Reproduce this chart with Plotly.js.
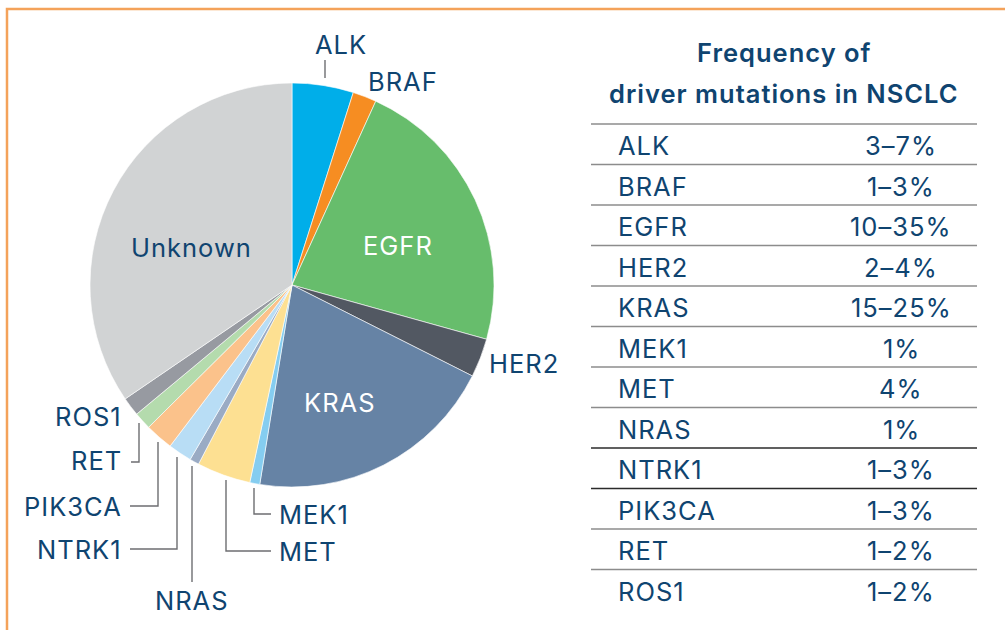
<!DOCTYPE html>
<html>
<head>
<meta charset="utf-8">
<script src="https://cdn.plot.ly/plotly-3.0.1.min.js"></script>
<style>
html,body{margin:0;padding:0;background:#fff;}
#chart{width:1005px;height:630px;}
.annotation-text{letter-spacing:1px;}
</style>
</head>
<body>
<div id="chart"></div>
<script>
// ---- data ----
const sliceLabels = ["ALK","BRAF","EGFR","HER2","KRAS","MEK1","MET","NRAS","NTRK1","PIK3CA","RET","ROS1","Unknown"];
const sliceValues = [4.9, 1.9, 22.5, 3.1, 20.1, 0.8, 4.3, 0.75, 1.9, 2.25, 1.4, 1.5, 34.5];
const sliceColors = ["#00aee9","#f68d22","#67bd6c","#525862","#6683a5","#85cdf0","#fde092","#9aabc4","#b8ddf5","#fbc28b","#b4dbad","#979aa1","#d1d3d4"];
const tableTitle = ["Frequency of", "driver mutations in NSCLC"];
const tableGenes = ["ALK","BRAF","EGFR","HER2","KRAS","MEK1","MET","NRAS","NTRK1","PIK3CA","RET","ROS1"];
const tableFreq = ["3–7%","1–3%","10–35%","2–4%","15–25%","1%","4%","1%","1–3%","1–3%","1–2%","1–2%"];

// ---- layout helpers (pixel -> paper) ----
const W = 1005, H = 630;
const px = x => x / W;
const py = y => 1 - y / H;
const navy = "#0f4470";
const FONT = "Inter, 'Open Sans', sans-serif";
const FS = 25.5;

const cx = 292, cy = 285, R = 202;

const annotations = [];
const shapes = [];

function label(text, x, y, anchor, color) {
  annotations.push({text: text, x: px(x), y: py(y), xref: "paper", yref: "paper",
    xanchor: anchor, yanchor: "middle", showarrow: false,
    font: {family: FONT, size: FS, color: color || navy}});
}
function leader(points) {
  let d = "";
  points.forEach((p, i) => { d += (i ? " L " : "M ") + px(p[0]) + "," + py(p[1]); });
  shapes.push({type: "path", xref: "paper", yref: "paper", path: d,
    line: {color: "#6d6e71", width: 1.4}});
}

// pie labels
const labelPos = {
  "ALK":     {x: 341, y: 45,  a: "center"},
  "BRAF":    {x: 366, y: 82,  a: "left"},
  "EGFR":    {x: 398, y: 246, a: "center", c: "#ffffff"},
  "HER2":    {x: 487, y: 364, a: "left"},
  "KRAS":    {x: 340, y: 403, a: "center", c: "#ffffff"},
  "MEK1":    {x: 277, y: 514, a: "left"},
  "MET":     {x: 277, y: 551, a: "left"},
  "NRAS":    {x: 192, y: 600, a: "center"},
  "NTRK1":   {x: 124, y: 549, a: "right"},
  "PIK3CA":  {x: 124, y: 506, a: "right"},
  "RET":     {x: 124, y: 461, a: "right"},
  "ROS1":    {x: 124, y: 416, a: "right"},
  "Unknown": {x: 191, y: 248, a: "center"}
};
sliceLabels.forEach(l => { const p = labelPos[l]; label(l, p.x, p.y, p.a, p.c); });

leader([[325, 60], [325, 78]]);                  // ALK
leader([[139, 423], [139, 462], [131, 462]]);    // RET
leader([[158, 442], [158, 506], [130, 506]]);    // PIK3CA
leader([[177, 457], [177, 549], [130, 549]]);    // NTRK1
leader([[192, 466], [192, 582]]);                // NRAS
leader([[226, 480], [226, 551], [271, 551]]);    // MET
leader([[254, 488], [254, 514], [271, 514]]);    // MEK1

// table title
annotations.push({text: tableTitle[0], x: px(784), y: py(52.5), xref: "paper", yref: "paper",
  xanchor: "center", yanchor: "middle", showarrow: false,
  font: {family: FONT, size: 25.5, color: navy, weight: 600}});
annotations.push({text: tableTitle[1], x: px(784), y: py(93.5), xref: "paper", yref: "paper",
  xanchor: "center", yanchor: "middle", showarrow: false,
  font: {family: FONT, size: 25.5, color: navy, weight: 600}});

// table rows
const rowTop = 124, rowH = 40.5;
tableGenes.forEach((g, i) => {
  const yc = rowTop + rowH * (i + 0.5) + 1.5;
  label(g, 616, yc, "left");
  label(tableFreq[i], 901, yc, "center");
  const yl = rowTop + rowH * i;
  shapes.push({type: "line", xref: "paper", yref: "paper",
    x0: px(591), x1: px(977), y0: py(yl), y1: py(yl),
    line: {color: (i === 8 || i === 9) ? "#2b2b2b" : "#8c8c8c", width: 1.5}});
});

// orange frame
shapes.push({type: "rect", xref: "paper", yref: "paper",
  x0: px(7), x1: px(1020), y0: py(9), y1: py(650),
  line: {color: "#f4a25a", width: 2.5}, fillcolor: "rgba(0,0,0,0)"});

const trace = {
  type: "pie",
  labels: sliceLabels,
  values: sliceValues,
  marker: {colors: sliceColors, line: {color: "#ffffff", width: 0.6}},
  sort: false,
  direction: "clockwise",
  rotation: 0,
  textinfo: "none",
  hoverinfo: "none",
  domain: {x: [px(cx - R), px(cx + R)], y: [py(cy + R), py(cy - R)]}
};

const layout = {
  width: W, height: H,
  margin: {l: 0, r: 0, t: 0, b: 0},
  paper_bgcolor: "#ffffff",
  showlegend: false,
  annotations: annotations,
  shapes: shapes
};

Plotly.newPlot("chart", [trace], layout, {staticPlot: true, displayModeBar: false});
</script>
</body>
</html>
